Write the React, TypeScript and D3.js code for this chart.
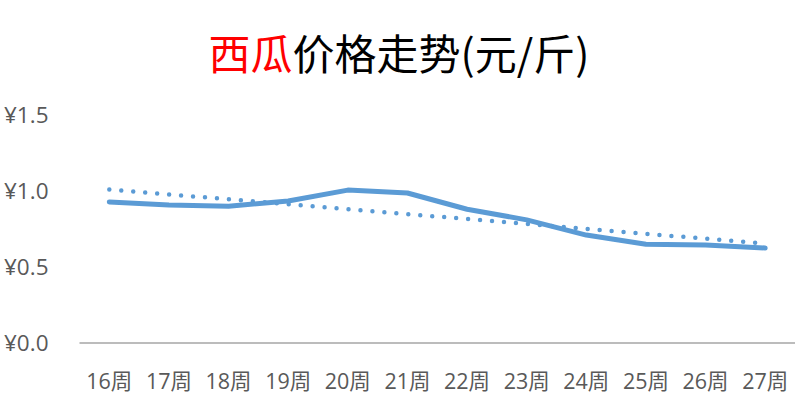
import React from "react";
import * as d3 from "d3";

const weeks = ["16周", "17周", "18周", "19周", "20周", "21周", "22周", "23周", "24周", "25周", "26周", "27周"];
const prices = [0.928, 0.908, 0.9, 0.934, 1.006, 0.987, 0.88, 0.81, 0.71, 0.65, 0.645, 0.625];
const yTicks = [0, 0.5, 1.0, 1.5];

const W = 798;
const H = 403;
const FONT = "'Noto Sans CJK SC', 'Noto Sans', sans-serif";
const LABEL_FONT = "'Open Sans', 'Noto Sans CJK SC', sans-serif";

export default function App() {
  const x = d3.scaleBand<string>().domain(weeks).range([79.5, 795]);
  const cx = (w: string) => (x(w) as number) + x.bandwidth() / 2;
  const y = d3.scaleLinear().domain([0, 1.5]).range([343, 115]);

  const line = d3
    .line<number>()
    .x((_, i) => cx(weeks[i]))
    .y((d) => y(d));

  // linear trendline (least squares) from the data
  const n = prices.length;
  const xs = prices.map((_, i) => i);
  const mx = d3.mean(xs) as number;
  const my = d3.mean(prices) as number;
  const slope =
    d3.sum(xs.map((xi, i) => (xi - mx) * (prices[i] - my))) /
    d3.sum(xs.map((xi) => (xi - mx) * (xi - mx)));
  const icpt = my - slope * mx;
  const trend = [icpt, icpt + slope * (n - 1)];
  const trendPath = `M${cx(weeks[0])},${y(trend[0])}L${cx(weeks[n - 1])},${y(trend[1])}`;

  return (
    <svg width={W} height={H} style={{ position: "absolute", left: 0, top: 0, background: "#fff" }}>
      <text x={399} y={70} textAnchor="middle" fontFamily={FONT} fontSize={42} fill="#000">
        <tspan fill="#FF0000">西瓜</tspan>
        <tspan>价格走势(元/斤)</tspan>
      </text>
      {yTicks.map((t) => (
        <text
          key={t}
          x={4}
          y={y(t)}
          dy="0.36em"
          fontFamily={LABEL_FONT}
          fontSize={22.5}
          fill="#595959"
        >
          {"¥" + t.toFixed(1)}
        </text>
      ))}
      <line x1={79.5} x2={795} y1={y(0)} y2={y(0)} stroke="#A6A6A6" strokeWidth={1.5} />
      {weeks.map((w) => (
        <text
          key={w}
          x={cx(w)}
          y={389}
          textAnchor="middle"
          fontFamily={LABEL_FONT}
          fontSize={21.5}
          fill="#595959"
        >
          {w}
        </text>
      ))}
      <path
        d={trendPath}
        fill="none"
        stroke="#5B9BD5"
        strokeWidth={4.5}
        strokeLinecap="round"
        strokeDasharray="0 12"
      />
      <path
        d={line(prices) as string}
        fill="none"
        stroke="#5B9BD5"
        strokeWidth={5}
        strokeLinecap="round"
        strokeLinejoin="round"
      />
    </svg>
  );
}
